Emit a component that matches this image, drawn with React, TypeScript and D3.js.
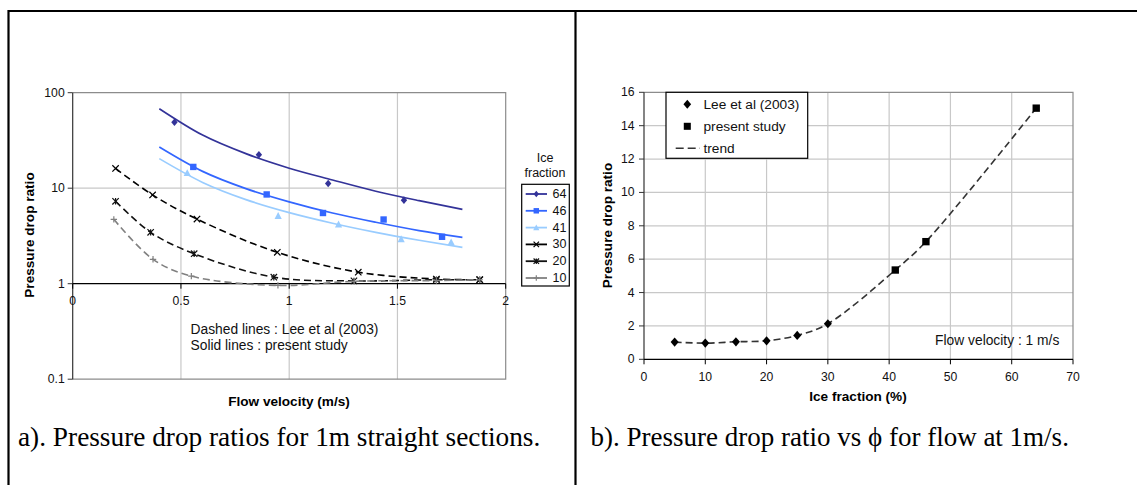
import React from 'react';
import * as d3 from 'd3';

// ---------- Panel a data ----------
const velTicks = [0, 0.5, 1, 1.5, 2];
const velTickLabels = ['0', '0.5', '1', '1.5', '2'];
const ratioLogTicks = [0.1, 1, 10, 100];
const ratioLogTickLabels = ['0.1', '1', '10', '100'];

const ice64X = [0.47, 0.86, 1.18, 1.53];
const ice64Y = [49, 22.4, 11.2, 7.5];
const ice46X = [0.557, 0.896, 1.156, 1.436, 1.706];
const ice46Y = [16.7, 8.6, 5.5, 4.7, 3.1];
const ice41X = [0.529, 0.949, 1.228, 1.517, 1.748];
const ice41Y = [14.5, 5.15, 4.2, 2.94, 2.73];

const fitX = [0.4, 0.6, 0.8, 1.0, 1.2, 1.4, 1.6, 1.8];
const fit64 = [68, 36, 23, 16.2, 12.2, 9.3, 7.4, 6.0];
const fit46 = [27, 15.0, 9.9, 7.2, 5.5, 4.4, 3.6, 3.06];
const fit41 = [20.4, 11.5, 7.6, 5.55, 4.3, 3.45, 2.85, 2.4];

const lee30X = [0.198, 0.369, 0.574, 0.945, 1.319, 1.68, 1.88];
const lee30Y = [16.1, 8.5, 4.75, 2.13, 1.32, 1.12, 1.1];
const lee20X = [0.198, 0.36, 0.561, 0.929, 1.299, 1.68, 1.88];
const lee20Y = [7.3, 3.45, 2.06, 1.17, 1.07, 1.1, 1.1];
const lee10X = [0.19, 0.371, 0.548, 0.948, 1.3, 1.68, 1.88];
const lee10Y = [4.72, 1.8, 1.2, 0.96, 1.06, 1.08, 1.1];

const iceLegendLabels = ['64', '46', '41', '30', '20', '10'];

// ---------- Panel b data ----------
const phiTicks = [0, 10, 20, 30, 40, 50, 60, 70];
const ratioTicks = [0, 2, 4, 6, 8, 10, 12, 14, 16];
const phiLee = [5, 10, 15, 20, 25, 30];
const ratioLee = [1.03, 0.97, 1.05, 1.11, 1.43, 2.13];
const phiPresent = [41, 46, 64];
const ratioPresent = [5.35, 7.05, 15.05];
const legendBLabels = ['Lee et al (2003)', 'present study', 'trend'];

const SANS = 'Liberation Sans, Arial, sans-serif';
const SERIF = 'Liberation Serif, Times New Roman, serif';

type MarkerKind = 'diamond' | 'square' | 'triangle' | 'x' | 'star' | 'plus';

function Marker({ kind, x, y, color, s = 1 }: { kind: MarkerKind; x: number; y: number; color: string; s?: number }) {
  const r = 3.2 * s;
  if (kind === 'diamond') {
    return <path d={`M${x},${y - r - 0.6}L${x + r},${y}L${x},${y + r + 0.6}L${x - r},${y}Z`} fill={color} />;
  }
  if (kind === 'square') {
    return <rect x={x - r} y={y - r} width={2 * r} height={2 * r} fill={color} />;
  }
  if (kind === 'triangle') {
    return <path d={`M${x},${y - r - 0.4}L${x + r + 0.4},${y + r}L${x - r - 0.4},${y + r}Z`} fill={color} />;
  }
  if (kind === 'x') {
    return <path d={`M${x - r},${y - r}L${x + r},${y + r}M${x - r},${y + r}L${x + r},${y - r}`} stroke={color} strokeWidth={1.2} />;
  }
  if (kind === 'star') {
    return (
      <path
        d={`M${x - r},${y - r}L${x + r},${y + r}M${x - r},${y + r}L${x + r},${y - r}M${x},${y - r}L${x},${y + r}`}
        stroke={color}
        strokeWidth={1.2}
      />
    );
  }
  return <path d={`M${x - r},${y}L${x + r},${y}M${x},${y - r}L${x},${y + r}`} stroke={color} strokeWidth={1.2} />;
}

function PanelA() {
  const x = d3.scaleLinear().domain([0, 2]).range([72.7, 505.7]);
  const y = d3.scaleLog().domain([0.1, 100]).range([379.2, 92.7]);
  const smooth = d3
    .line<[number, number]>()
    .x((d) => x(d[0]))
    .y((d) => y(d[1]))
    .curve(d3.curveCatmullRom.alpha(0.5));
  const fitLine = d3
    .line<[number, number]>()
    .x((d) => x(d[0]))
    .y((d) => y(d[1]))
    .curve(d3.curveMonotoneX);

  const zip = (a: number[], b: number[]) => a.map((v, i) => [v, b[i]] as [number, number]);

  const solids = [
    { xs: ice64X, ys: ice64Y, fit: fit64, color: '#333399', kind: 'diamond' as MarkerKind },
    { xs: ice46X, ys: ice46Y, fit: fit46, color: '#3366ff', kind: 'square' as MarkerKind },
    { xs: ice41X, ys: ice41Y, fit: fit41, color: '#99ccff', kind: 'triangle' as MarkerKind },
  ];
  const dashed = [
    { xs: lee30X, ys: lee30Y, color: '#000000', kind: 'x' as MarkerKind },
    { xs: lee20X, ys: lee20Y, color: '#111111', kind: 'star' as MarkerKind },
    { xs: lee10X, ys: lee10Y, color: '#808080', kind: 'plus' as MarkerKind },
  ];
  const legendItems = [
    { color: '#333399', kind: 'diamond' as MarkerKind },
    { color: '#3366ff', kind: 'square' as MarkerKind },
    { color: '#99ccff', kind: 'triangle' as MarkerKind },
    { color: '#000000', kind: 'x' as MarkerKind },
    { color: '#111111', kind: 'star' as MarkerKind },
    { color: '#808080', kind: 'plus' as MarkerKind },
  ];

  const x0 = x(0), x1 = x(2), yTop = y(100), yBot = y(0.1), yAxis = y(1);

  return (
    <g>
      {[0.5, 1, 1.5].map((v) => (
        <line key={'gx' + v} x1={x(v)} x2={x(v)} y1={yTop} y2={yBot} stroke="#c8c8c8" strokeWidth={1.2} />
      ))}
      <line x1={x0} x2={x1} y1={y(10)} y2={y(10)} stroke="#c8c8c8" strokeWidth={1.2} />
      <path d={`M${x0},${yTop}H${x1}V${yBot}H${x0}`} fill="none" stroke="#8c8c8c" strokeWidth={1.2} />
      <line x1={x0} x2={x0} y1={yTop} y2={yBot} stroke="#333" strokeWidth={1.2} />
      {ratioLogTicks.map((v, i) => (
        <g key={'yt' + v}>
          <line x1={x0 - 5} x2={x0} y1={y(v)} y2={y(v)} stroke="#333" strokeWidth={1} />
          <text x={x0 - 8} y={y(v)} textAnchor="end" dominantBaseline="central" fontSize={12.2} fontFamily={SANS} fill="#111">
            {ratioLogTickLabels[i]}
          </text>
        </g>
      ))}
      <line x1={x0} x2={x1} y1={yAxis} y2={yAxis} stroke="#000" strokeWidth={1.3} />
      {velTicks.map((v, i) => (
        <g key={'xt' + v}>
          <line x1={x(v)} x2={x(v)} y1={yAxis} y2={yAxis + 5} stroke="#000" strokeWidth={1} />
          <text x={x(v)} y={yAxis + 17} textAnchor="middle" dominantBaseline="central" fontSize={12.2} fontFamily={SANS} fill="#111">
            {velTickLabels[i]}
          </text>
        </g>
      ))}
      {dashed.map((s, k) => (
        <g key={'d' + k}>
          <path d={smooth(zip(s.xs, s.ys)) || ''} fill="none" stroke={s.color} strokeWidth={1.6} strokeDasharray="7,4" />
          {s.xs.map((xv, i) => (
            <Marker key={i} kind={s.kind} x={x(xv)} y={y(s.ys[i])} color={s.color} />
          ))}
        </g>
      ))}
      {solids.map((s, k) => (
        <g key={'s' + k}>
          <path d={fitLine(zip(fitX, s.fit)) || ''} fill="none" stroke={s.color} strokeWidth={1.7} />
          {s.xs.map((xv, i) => (
            <Marker key={i} kind={s.kind} x={x(xv)} y={y(s.ys[i])} color={s.color} />
          ))}
        </g>
      ))}
      <text x={190.5} y={329.3} dominantBaseline="central" fontSize={13.8} fontFamily={SANS} fill="#111">
        Dashed lines : Lee et al (2003)
      </text>
      <text x={190.5} y={345} dominantBaseline="central" fontSize={13.8} fontFamily={SANS} fill="#111">
        Solid lines : present study
      </text>
      <text x={289} y={401} textAnchor="middle" dominantBaseline="central" fontSize={13.6} fontWeight="bold" fontFamily={SANS} fill="#000">
        Flow velocity (m/s)
      </text>
      <text
        transform={`translate(29.5,235) rotate(-90)`}
        textAnchor="middle"
        dominantBaseline="central"
        fontSize={13.6}
        fontWeight="bold"
        fontFamily={SANS}
        fill="#000"
      >
        Pressure drop ratio
      </text>
      <text x={545} y={158.3} textAnchor="middle" dominantBaseline="central" fontSize={12.5} fontFamily={SANS} fill="#111">
        Ice
      </text>
      <text x={545} y={172.7} textAnchor="middle" dominantBaseline="central" fontSize={12.5} fontFamily={SANS} fill="#111">
        fraction
      </text>
      <rect x={521.7} y={184.3} width={47.6} height={101.7} fill="#fff" stroke="#000" strokeWidth={1.2} />
      {legendItems.map((it, i) => {
        const ly = 194 + i * 16.8;
        return (
          <g key={'lg' + i}>
            <line x1={525.7} x2={547} y1={ly} y2={ly} stroke={it.color} strokeWidth={1.8} />
            <Marker kind={it.kind} x={536.3} y={ly} color={it.color} s={0.85} />
            <text x={552.5} y={ly} dominantBaseline="central" fontSize={12.5} fontFamily={SANS} fill="#111">
              {iceLegendLabels[i]}
            </text>
          </g>
        );
      })}
      <text x={18} y={446} fontSize={27.3} fontFamily={SERIF} fill="#000">
        a). Pressure drop ratios for 1m straight sections.
      </text>
    </g>
  );
}

function PanelB() {
  const x = d3.scaleLinear().domain([0, 70]).range([644, 1073]);
  const y = d3.scaleLinear().domain([0, 16]).range([359.3, 92.3]);
  const pts = [...phiLee.map((v, i) => [v, ratioLee[i]]), ...phiPresent.map((v, i) => [v, ratioPresent[i]])] as [number, number][];
  const trend = d3
    .line<[number, number]>()
    .x((d) => x(d[0]))
    .y((d) => y(d[1]))
    .curve(d3.curveCatmullRom.alpha(0.5));
  const x0 = x(0), x1 = x(70), yTop = y(16), yBot = y(0);
  return (
    <g>
      {phiTicks.slice(1, -1).map((v) => (
        <line key={'gx' + v} x1={x(v)} x2={x(v)} y1={yTop} y2={yBot} stroke="#c8c8c8" strokeWidth={1.2} />
      ))}
      {ratioTicks.slice(1, -1).map((v) => (
        <line key={'gy' + v} x1={x0} x2={x1} y1={y(v)} y2={y(v)} stroke="#c8c8c8" strokeWidth={1.2} />
      ))}
      <path d={`M${x0},${yTop}H${x1}V${yBot}`} fill="none" stroke="#8c8c8c" strokeWidth={1.2} />
      <line x1={x0} x2={x0} y1={yTop} y2={yBot} stroke="#333" strokeWidth={1.2} />
      <line x1={x0} x2={x1} y1={yBot} y2={yBot} stroke="#000" strokeWidth={1.3} />
      {ratioTicks.map((v) => (
        <g key={'yt' + v}>
          <line x1={x0 - 5} x2={x0} y1={y(v)} y2={y(v)} stroke="#333" strokeWidth={1} />
          <text x={634.5} y={y(v)} textAnchor="end" dominantBaseline="central" fontSize={12.2} fontFamily={SANS} fill="#111">
            {String(v)}
          </text>
        </g>
      ))}
      {phiTicks.map((v) => (
        <g key={'xt' + v}>
          <line x1={x(v)} x2={x(v)} y1={yBot} y2={yBot + 5} stroke="#000" strokeWidth={1} />
          <text x={x(v)} y={377.3} textAnchor="middle" dominantBaseline="central" fontSize={12.2} fontFamily={SANS} fill="#111">
            {String(v)}
          </text>
        </g>
      ))}
      <path d={trend(pts) || ''} fill="none" stroke="#333" strokeWidth={1.6} strokeDasharray="7,4" />
      {phiLee.map((v, i) => (
        <Marker key={'l' + i} kind="diamond" x={x(v)} y={y(ratioLee[i])} color="#000" s={1.25} />
      ))}
      {phiPresent.map((v, i) => (
        <Marker key={'p' + i} kind="square" x={x(v)} y={y(ratioPresent[i])} color="#000" s={1.15} />
      ))}
      <text x={1059.3} y={340} textAnchor="end" dominantBaseline="central" fontSize={13.8} fontFamily={SANS} fill="#111">
        Flow velocity : 1 m/s
      </text>
      <rect x={666} y={92.3} width={141.7} height={66} fill="#fff" stroke="#000" strokeWidth={1.2} />
      <Marker kind="diamond" x={687.3} y={104.3} color="#000" s={1.2} />
      <Marker kind="square" x={687.3} y={126.3} color="#000" s={1.1} />
      <line x1={675.7} x2={700} y1={148.3} y2={148.3} stroke="#333" strokeWidth={1.6} strokeDasharray="8,4" />
      {legendBLabels.map((t, i) => (
        <text key={t} x={703.5} y={104.3 + i * 22} dominantBaseline="central" fontSize={13.7} fontFamily={SANS} fill="#111">
          {t}
        </text>
      ))}
      <text x={858} y={396.7} textAnchor="middle" dominantBaseline="central" fontSize={13.6} fontWeight="bold" fontFamily={SANS} fill="#000">
        Ice fraction (%)
      </text>
      <text
        transform={`translate(607.3,225.5) rotate(-90)`}
        textAnchor="middle"
        dominantBaseline="central"
        fontSize={13.6}
        fontWeight="bold"
        fontFamily={SANS}
        fill="#000"
      >
        Pressure drop ratio
      </text>
      <text x={590.5} y={446} fontSize={27} fontFamily={SERIF} fill="#000">
        b). Pressure drop ratio vs ϕ for flow at 1m/s.
      </text>
    </g>
  );
}

export default function App() {
  return (
    <svg
      width={1137}
      height={485}
      viewBox="0 0 1137 485"
      style={{ position: 'absolute', left: 0, top: 0, background: '#fff', overflow: 'hidden' }}
    >
      <rect x={0} y={0} width={1137} height={485} fill="#fff" />
      <path d="M8.5,490V11H1140" fill="none" stroke="#000" strokeWidth={2.2} />
      <line x1={575.5} x2={575.5} y1={11} y2={490} stroke="#000" strokeWidth={2.2} />
      <PanelA />
      <PanelB />
    </svg>
  );
}
